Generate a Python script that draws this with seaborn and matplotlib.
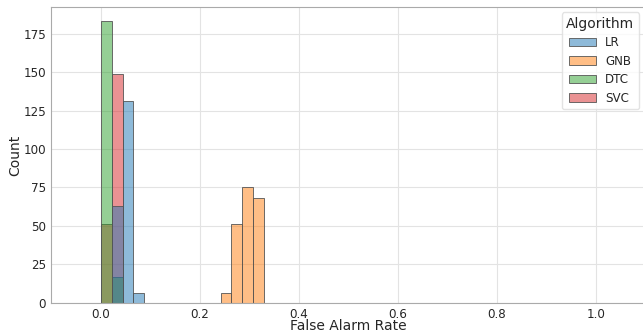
import numpy as np
import pandas as pd
import matplotlib
matplotlib.use("Agg")
import matplotlib.pyplot as plt
import seaborn as sns

# Bin layout (15 common bins over 0 .. 0.33)
n_bins = 15
bin_range = (0.0, 0.33)
bin_edges = np.linspace(bin_range[0], bin_range[1], n_bins + 1)
bin_centers = (bin_edges[:-1] + bin_edges[1:]) / 2

algorithms = ["LR", "GNB", "DTC", "SVC"]
# counts per bin (15 bins) for each algorithm
counts_LR = [0, 63, 131, 6, 0, 0, 0, 0, 0, 0, 0, 0, 0, 0, 0]
counts_GNB = [0, 0, 0, 0, 0, 0, 0, 0, 0, 0, 0, 6, 51, 75, 68]
counts_DTC = [183, 17, 0, 0, 0, 0, 0, 0, 0, 0, 0, 0, 0, 0, 0]
counts_SVC = [51, 149, 0, 0, 0, 0, 0, 0, 0, 0, 0, 0, 0, 0, 0]

all_counts = {"LR": counts_LR, "GNB": counts_GNB, "DTC": counts_DTC, "SVC": counts_SVC}

rows = []
for alg in algorithms:
    for c, n in zip(bin_centers, all_counts[alg]):
        rows.append({"False Alarm Rate": c, "Count": n, "Algorithm": alg})
df = pd.DataFrame(rows)

sns.set_theme(style="whitegrid")
plt.rcParams["font.family"] = ["DejaVu Sans"]
plt.rcParams["axes.edgecolor"] = "#aaaaaa"
plt.rcParams["axes.linewidth"] = 0.8
plt.rcParams["grid.color"] = "#e3e3e3"
plt.rcParams["grid.linewidth"] = 0.8

fig = plt.figure(figsize=(6.43, 3.32), dpi=100)
ax = fig.add_axes([0.0796, 0.0883, 0.9243, 0.8898])

sns.histplot(data=df, x="False Alarm Rate", weights="Count", hue="Algorithm",
             hue_order=algorithms, bins=n_bins, binrange=bin_range, multiple="layer",
             palette="tab10", alpha=0.5, edgecolor="#555555", linewidth=0.6, ax=ax)

ax.set_xlim(-0.1, 1.1)
ax.set_ylim(0, 192.15)
ax.set_xticks([0.0, 0.2, 0.4, 0.6, 0.8, 1.0])
ax.set_yticks([0, 25, 50, 75, 100, 125, 150, 175])
ax.tick_params(axis="both", labelsize=8.6, length=2.5, color="#cccccc", pad=1.2)
ax.set_xlabel("False Alarm Rate", fontsize=10, labelpad=-1)
ax.set_ylabel("Count", fontsize=10, labelpad=0.5)
ax.spines["right"].set_visible(False)

sns.move_legend(ax, "upper right", bbox_to_anchor=(0.9955, 0.995), title="Algorithm",
                fontsize=8.6, title_fontsize=10, frameon=True, borderaxespad=0.3,
                labelspacing=0.45, handlelength=2.2)
leg = ax.get_legend()
leg.get_frame().set_edgecolor("#dddddd")

fig.savefig("out.png", dpi=100)
